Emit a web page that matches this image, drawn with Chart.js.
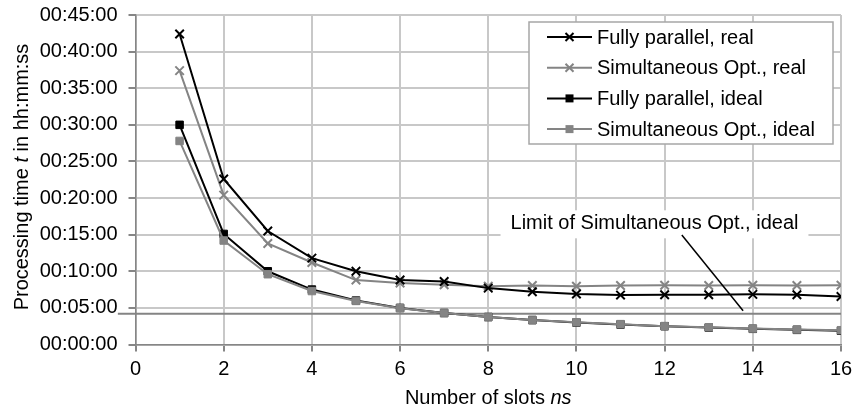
<!DOCTYPE html>
<html lang="en">
<head>
  <meta charset="UTF-8">
  <title>Processing time vs number of slots</title>
  <script src="https://cdn.jsdelivr.net/npm/chart.js"></script>
  <style>
    html, body { margin: 0; padding: 0; background: #ffffff; }
    #wrap { width: 853px; height: 412px; }
  </style>
</head>
<body>
  <div id="wrap"><canvas id="chart" width="853" height="412"></canvas></div>

  <script>
    // number of slots (x) and processing times in minutes
    const slots = [1, 2, 3, 4, 5, 6, 7, 8, 9, 10, 11, 12, 13, 14, 15, 16];
    const fullyReal = [42.4, 22.6, 15.5, 11.8, 10.0, 8.8, 8.6, 7.7, 7.2, 6.9, 6.75, 6.8, 6.8, 6.85, 6.8, 6.55];
    const simReal   = [37.4, 20.4, 13.8, 11.2, 8.8, 8.4, 8.15, 7.95, 8.05, 7.95, 8.05, 8.1, 8.05, 8.1, 8.05, 8.1];
    const fullyIdeal = [30.0, 15.1, 10.0, 7.5, 6.0, 5.0, 4.3, 3.75, 3.33, 3.0, 2.73, 2.5, 2.31, 2.14, 2.0, 1.88];
    const simIdeal   = [27.8, 14.2, 9.6, 7.3, 5.95, 4.95, 4.3, 3.75, 3.36, 3.03, 2.78, 2.5, 2.35, 2.18, 2.05, 1.95];
    // horizontal limit line (drawn a little past the y axis, like the original)
    const limitX = [-0.4, 16];
    const limitY = [4.2, 4.2];

    const FONT = '"Liberation Sans", Arial, sans-serif';
    const BLACK = '#000000';
    const GRAY = '#848484';

    function toPoints(xs, ys) {
      return xs.map((x, i) => ({ x: x, y: ys[i] }));
    }

    // minutes -> hh:mm:ss
    function hms(min) {
      const total = Math.round(min * 60);
      const h = Math.floor(total / 3600);
      const m = Math.floor((total % 3600) / 60);
      const s = total % 60;
      const p = n => String(n).padStart(2, '0');
      return `${p(h)}:${p(m)}:${p(s)}`;
    }

    // draws a row of text pieces with mixed fonts, centered on x=0
    function drawPieces(ctx, pieces, y) {
      let total = 0;
      pieces.forEach(pc => { ctx.font = pc.font; total += ctx.measureText(pc.text).width; });
      let x = -total / 2;
      pieces.forEach(pc => {
        ctx.font = pc.font;
        ctx.fillText(pc.text, x, y);
        x += ctx.measureText(pc.text).width;
      });
    }

    const axisTitles = {
      id: 'axisTitles',
      afterDraw(chart) {
        const ctx = chart.ctx;
        const area = chart.chartArea;
        const reg = `20px ${FONT}`;
        const ita = `italic 20px ${FONT}`;
        ctx.save();
        ctx.fillStyle = '#000';
        ctx.textAlign = 'left';
        ctx.textBaseline = 'alphabetic';
        // x title
        ctx.save();
        ctx.translate((area.left + area.right) / 2, 404);
        drawPieces(ctx, [{ text: 'Number of slots ', font: reg }, { text: 'ns', font: ita }], 0);
        ctx.restore();
        // y title
        ctx.save();
        ctx.translate(28, 177);
        ctx.rotate(-Math.PI / 2);
        drawPieces(ctx, [
          { text: 'Processing time ', font: reg },
          { text: 't', font: ita },
          { text: ' in hh:mm:ss', font: reg }
        ], 0);
        ctx.restore();
        ctx.restore();
      }
    };

    const limitNote = {
      id: 'limitNote',
      afterDatasetsDraw(chart, args, opts) {
        const ctx = chart.ctx;
        const xs = chart.scales.x, ys = chart.scales.y;
        const cx = xs.getPixelForValue(opts.at[0]);
        const cy = ys.getPixelForValue(opts.at[1]);
        ctx.save();
        ctx.font = `20px ${FONT}`;
        const w = ctx.measureText(opts.text).width;
        ctx.fillStyle = '#ffffff';
        ctx.fillRect(cx - w / 2 - 10, cy - 13, w + 20, 28);
        ctx.fillStyle = '#000';
        ctx.textAlign = 'center';
        ctx.textBaseline = 'middle';
        ctx.fillText(opts.text, cx, cy);
        ctx.strokeStyle = '#000';
        ctx.lineWidth = 1.5;
        ctx.beginPath();
        ctx.moveTo(xs.getPixelForValue(opts.from[0]), ys.getPixelForValue(opts.from[1]));
        ctx.lineTo(xs.getPixelForValue(opts.to[0]), ys.getPixelForValue(opts.to[1]));
        ctx.stroke();
        ctx.restore();
      }
    };

    function drawMarker(ctx, style, color, x, y) {
      ctx.save();
      if (style === 'rect') {
        ctx.fillStyle = color;
        ctx.fillRect(x - 4, y - 4, 8, 8);
      } else {
        ctx.strokeStyle = color;
        ctx.lineWidth = 2;
        ctx.beginPath();
        ctx.moveTo(x - 4, y - 4); ctx.lineTo(x + 4, y + 4);
        ctx.moveTo(x + 4, y - 4); ctx.lineTo(x - 4, y + 4);
        ctx.stroke();
      }
      ctx.restore();
    }

    const boxLegend = {
      id: 'boxLegend',
      afterDraw(chart) {
        const ctx = chart.ctx;
        const area = chart.chartArea;
        const items = chart.data.datasets.filter(d => d.inLegend);
        const right = area.right - 8, top = area.top + 7;
        const left = right - 304, bottom = top + 122;
        ctx.save();
        ctx.fillStyle = '#ffffff';
        ctx.fillRect(left, top, right - left, bottom - top);
        ctx.strokeStyle = '#a6a6a6';
        ctx.lineWidth = 1.5;
        ctx.strokeRect(left, top, right - left, bottom - top);
        ctx.font = `20px ${FONT}`;
        ctx.textAlign = 'left';
        ctx.textBaseline = 'middle';
        items.forEach((d, i) => {
          const y = top + 15 + i * 30.7;
          ctx.strokeStyle = d.borderColor;
          ctx.lineWidth = 2;
          ctx.beginPath();
          ctx.moveTo(left + 18, y);
          ctx.lineTo(left + 63, y);
          ctx.stroke();
          drawMarker(ctx, d.pointStyle, d.pointBackgroundColor, left + 40.5, y);
          ctx.fillStyle = '#000';
          ctx.fillText(d.label, left + 68, y + 1);
        });
        ctx.restore();
      }
    };

    function series(label, ys, color, style, order) {
      const isRect = style === 'rect';
      return {
        label: label,
        data: toPoints(slots, ys),
        inLegend: true,
        order: order,
        borderColor: color,
        borderWidth: 2,
        pointStyle: style,
        pointRadius: isRect ? 5.3 : 6,
        pointBackgroundColor: color,
        pointBorderColor: color,
        pointBorderWidth: isRect ? 1 : 2,
        tension: 0
      };
    }

    const ctx = document.getElementById('chart').getContext('2d');
    new Chart(ctx, {
      type: 'line',
      data: {
        datasets: [
          series('Fully parallel, real', fullyReal, BLACK, 'crossRot', 2),
          series('Simultaneous Opt., real', simReal, GRAY, 'crossRot', 3),
          series('Fully parallel, ideal', fullyIdeal, BLACK, 'rect', 1),
          series('Simultaneous Opt., ideal', simIdeal, GRAY, 'rect', 0),
          {
            label: 'Limit of Simultaneous Opt., ideal',
            data: toPoints(limitX, limitY),
            inLegend: false,
            order: 10,
            borderColor: GRAY,
            borderWidth: 2,
            pointRadius: 0,
            clip: false
          }
        ]
      },
      options: {
        responsive: false,
        animation: false,
        events: [],
        layout: { padding: { top: 15, right: 12, bottom: 0, left: 0 } },
        plugins: {
          legend: { display: false },
          tooltip: { enabled: false },
          limitNote: {
            text: 'Limit of Simultaneous Opt., ideal',
            at: [11.77, 16.55],
            from: [12.39, 14.96],
            to: [13.78, 4.6]
          }
        },
        scales: {
          x: {
            type: 'linear',
            min: 0,
            max: 16,
            ticks: {
              stepSize: 2,
              color: '#000',
              padding: 6,
              font: { family: FONT, size: 20 }
            },
            grid: { color: '#c8c8c8', lineWidth: 2, tickLength: 7, tickColor: '#868686' },
            border: { color: '#868686', width: 1.5 },
            afterFit: s => {
              s.height = 67.5;
              s.paddingLeft = 0;
              s.paddingRight = 0;
            }
          },
          y: {
            min: 0,
            max: 45,
            ticks: {
              stepSize: 5,
              color: '#000',
              padding: 11,
              font: { family: FONT, size: 20 },
              callback: v => hms(v)
            },
            grid: { color: '#c8c8c8', lineWidth: 2, tickLength: 7, tickColor: '#868686' },
            border: { color: '#868686', width: 1.5 },
            afterFit: s => {
              s.width = 135.5;
              s.paddingTop = 0;
              s.paddingBottom = 0;
            }
          }
        }
      },
      plugins: [limitNote, boxLegend, axisTitles]
    });
  </script>
</body>
</html>
